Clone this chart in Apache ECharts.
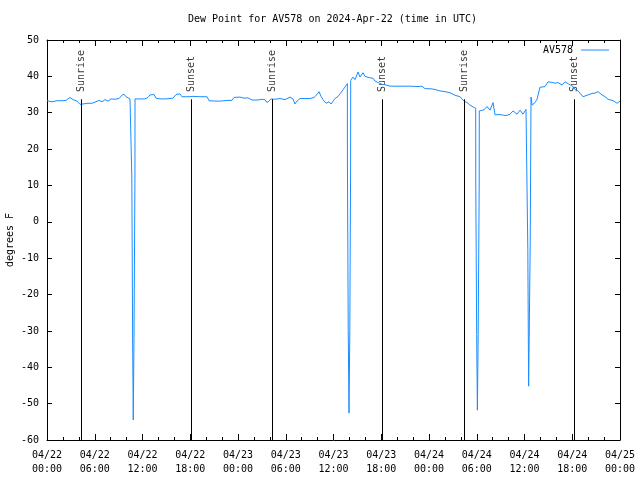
<!DOCTYPE html>
<html><head><meta charset="utf-8">
<script src="https://cdn.jsdelivr.net/npm/echarts@6/dist/echarts.min.js"></script>
<style>html,body{margin:0;padding:0;background:#fff}#c{width:640px;height:480px}</style>
</head><body><div id="c"></div>
<script>
// hours since 2024-04-22 00:00 UTC
const hours = [
 0, 0.63, 1.26, 1.88, 2.39, 2.89, 3.27, 3.77, 4.15, 4.52,
 5.03, 5.65, 6.03, 6.53, 6.91, 7.29, 7.67, 8.04, 8.55, 9.05,
 9.42, 9.68, 9.93, 10.18, 10.43, 10.64, 10.66, 10.76, 10.84, 10.93,
 11.05, 11.06,
 11.31, 11.69, 12.31, 12.69, 12.94, 13.19, 13.45, 13.70, 14.20, 14.83,
 15.46, 15.83, 16.21, 16.46, 16.71, 16.96, 17.47, 17.97, 18.10, 18.35,
 19.23, 20.11, 20.36, 21.11, 21.87, 22.12, 22.74, 23.25, 23.50, 24.25,
 24.76, 25.26, 25.76, 26.51, 27.02, 27.39, 27.64, 27.90, 28.15, 28.65,
 29.28, 29.91, 30.54, 30.91, 31.16, 31.42, 31.79, 32.42, 33.05, 33.55,
 33.93, 34.18, 34.43, 34.68, 35.06, 35.44, 35.69, 36.19, 36.57, 36.82,
 37.20, 37.45, 37.74, 37.75, 37.85, 37.95, 38.05, 38.15, 38.16,
 38.45, 38.70, 39.08, 39.33, 39.71, 39.96, 40.21, 40.59, 40.96, 41.22,
 41.59, 41.84, 42.10, 42.47, 43.10, 44.36, 45.61, 46.62, 46.87, 47.12,
 47.50, 48.13, 48.76, 49.38, 50.01, 50.64, 51.27, 51.90, 52.40, 52.78,
 53.15, 53.53, 53.87, 53.88, 53.99, 54.08, 54.18, 54.31, 54.32,
 54.54, 54.91, 55.29, 55.67, 56.04, 56.30, 56.67, 57.18, 57.68, 58.18,
 58.56, 59.06, 59.44, 59.81, 60.19, 60.40, 60.42, 60.48, 60.52, 60.59,
 60.72, 60.82, 60.95, 61.32, 61.57, 61.95,
 62.58, 62.96, 63.21, 63.58, 63.84, 64.21, 64.72, 65.09, 65.47, 65.72,
 66.10, 66.35, 66.73, 66.98, 67.35, 67.98, 68.49, 68.86, 69.24, 69.74,
 70.12, 70.50, 71.13, 71.63, 72.00
];
const dewPoint = [
 33.3, 33.0, 33.3, 33.3, 33.4, 34.2, 33.6, 33.2, 32.3, 32.4,
 32.6, 32.6, 32.9, 33.4, 33.0, 33.6, 33.2, 33.8, 33.7, 33.9,
 34.8, 35.1, 34.4, 34.6, 33.8, 33.8, 12, -32, -54.5, -32,
 12, 33.8,
 34.0, 33.8, 33.8, 34.2, 34.9, 34.6, 35.0, 34.0, 33.8, 33.8,
 33.9, 34.0, 35.0, 35.3, 35.2, 34.4, 34.4, 34.4, 33.9, 34.5,
 34.4, 34.4, 33.3, 33.2, 33.2, 33.6, 33.4, 33.4, 34.2, 34.3,
 34.0, 34.1, 33.5, 33.5, 33.7, 33.6, 32.8, 33.2, 33.8, 33.7,
 33.9, 33.6, 34.3, 33.8, 32.4, 33.2, 33.9, 33.9, 33.9, 34.2,
 35.0, 35.8, 34.5, 33.6, 32.6, 33.0, 32.4, 33.9, 34.5, 35.2,
 36.3, 37.1, 38.0, 16.2, -29.8, -52.6, -29.8, 16.2, 38.9,
 39.8, 39.1, 41.2, 39.8, 41.0, 40.0, 39.8, 39.6, 39.5, 38.7,
 38.3, 38.2, 37.8, 37.7, 37.3, 37.3, 37.3, 37.2, 37.6, 37.3,
 36.6, 36.6, 36.4, 36.0, 35.8, 35.5, 34.8, 34.4, 33.2, 32.8,
 32.1, 31.6, 31.2, 10.7, -31, -51.8, -31, 10.7, 30.5,
 30.3, 30.8, 31.7, 30.7, 32.8, 29.4, 29.5, 29.4, 29.2, 29.6,
 30.5, 29.6, 30.7, 29.6, 30.9, 30.5, -7.8, -31.7, -45.2, -31.7,
 -5.5, 34.3, 32.1, 32.8, 33.7, 37.0,
 37.2, 38.5, 38.8, 38.3, 38.1, 38.3, 37.6, 38.5, 38.0, 37.6,
 37.2, 36.4, 36.0, 35.8, 34.4, 34.9, 35.3, 35.4, 35.8, 34.9,
 34.4, 33.7, 33.3, 32.6, 33.2
];
const eventHours = [4.31, 18.18, 28.31, 42.13, 52.44, 66.22];
const eventNames = ['Sunrise', 'Sunset', 'Sunrise', 'Sunset', 'Sunrise', 'Sunset'];
const eventLineTop = 33.7;
const eventLabelBase = 35.7;
const xTickLabels = ['04/22\n00:00','04/22\n06:00','04/22\n12:00','04/22\n18:00','04/23\n00:00','04/23\n06:00','04/23\n12:00','04/23\n18:00','04/24\n00:00','04/24\n06:00','04/24\n12:00','04/24\n18:00','04/25\n00:00'];
const seriesName = 'AV578';
const titleText = 'Dew Point for AV578 on 2024-Apr-22 (time in UTC)';
const yName = 'degrees F';

const FONT = 'DejaVu Sans Mono';
const LINE_COLOR = '#1a8cff';
const chart = echarts.init(document.getElementById('c'), null, {renderer: 'canvas'});
const axisLineStyle = {color: '#000', width: 1};
const baseX = {
  type: 'value', min: 0, max: 72, interval: 6,
  axisLine: {show: true, onZero: false, lineStyle: axisLineStyle},
  axisTick: {show: true, inside: true, length: 6, lineStyle: axisLineStyle},
  minorTick: {show: true, splitNumber: 3, length: 3, lineStyle: axisLineStyle},
  splitLine: {show: false}, minorSplitLine: {show: false}
};
const baseY = {
  type: 'value', min: -60, max: 50, interval: 10,
  axisLine: {show: true, onZero: false, lineStyle: axisLineStyle},
  axisTick: {show: true, inside: true, length: 5, lineStyle: axisLineStyle},
  splitLine: {show: false}
};
chart.setOption({
  animation: false,
  backgroundColor: '#fff',
  title: {
    text: titleText, left: 183, top: 9,
    textStyle: {fontFamily: FONT, fontSize: 10, fontWeight: 'normal', color: '#000'}
  },
  legend: {
    data: [seriesName], right: 31, top: 45, align: 'right', padding: 0,
    icon: 'rect', itemWidth: 28, itemHeight: 1,
    itemStyle: {color: LINE_COLOR},
    textStyle: {fontFamily: FONT, fontSize: 10, color: '#000', padding: [0, 3, 0, 0]}
  },
  grid: {left: 47, right: 20, top: 40, bottom: 40, outerBoundsMode: 'none', containLabel: false},
  xAxis: [
    Object.assign({}, baseX, {
      position: 'bottom',
      axisLabel: {
        show: true, margin: 8, color: '#000', fontFamily: FONT, fontSize: 10, lineHeight: 14,
        formatter: v => xTickLabels[Math.round(v / 6)]
      }
    }),
    Object.assign({}, baseX, {position: 'top', axisLabel: {show: false}})
  ],
  yAxis: [
    Object.assign({}, baseY, {
      position: 'left',
      name: yName, nameLocation: 'middle', nameGap: 32, nameRotate: 90,
      nameMoveOverlap: false,
      nameTextStyle: {fontFamily: FONT, fontSize: 10, color: '#000'},
      axisLabel: {show: true, margin: 8, color: '#000', fontFamily: FONT, fontSize: 10}
    }),
    Object.assign({}, baseY, {position: 'right', axisLabel: {show: false}})
  ],
  series: [
    {
      name: seriesName, type: 'line', xAxisIndex: 0, yAxisIndex: 0,
      data: hours.map((h, i) => [h, dewPoint[i]]),
      symbol: 'none', showSymbol: false, sampling: null,
      lineStyle: {color: LINE_COLOR, width: 1},
      itemStyle: {color: LINE_COLOR},
      z: 3,
      markLine: {
        silent: true, symbol: ['none', 'none'], animation: false,
        label: {show: false},
        lineStyle: {color: '#000', width: 1, type: 'solid'},
        data: eventHours.map(h => [{coord: [h, -60]}, {coord: [h, eventLineTop]}])
      }
    },
    {
      name: 'events', type: 'scatter', xAxisIndex: 0, yAxisIndex: 0, silent: true,
      symbolSize: 1, itemStyle: {color: 'rgba(0,0,0,0)'},
      data: eventHours.map((h, i) => ({value: [h, eventLabelBase], name: eventNames[i]})),
      label: {
        show: true, formatter: p => p.name, position: [0.5, 0.5],
        align: 'left', verticalAlign: 'middle', rotate: 90,
        fontFamily: FONT, fontSize: 10, color: '#000'
      }
    }
  ]
});
</script></body></html>
